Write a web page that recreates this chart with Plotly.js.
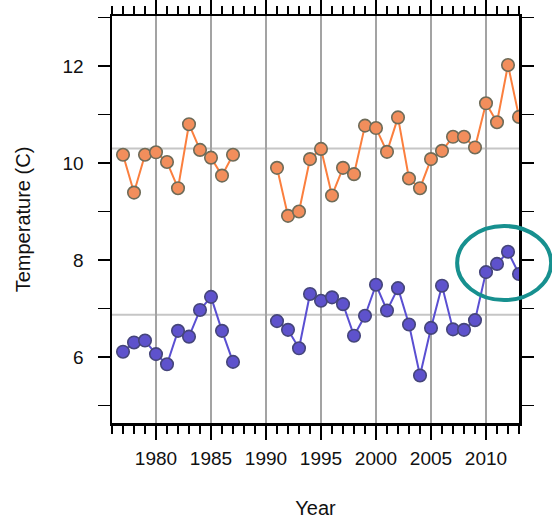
<!DOCTYPE html>
<html>
<head>
<meta charset="utf-8">
<script src="https://cdn.plot.ly/plotly-3.0.1.min.js"></script>
<style>
  html, body { margin: 0; padding: 0; background: #ffffff; }
  #chart { width: 552px; height: 520px; }
</style>
</head>
<body>
<div id="chart"></div>
<script>
// Years (1988-1990 missing)
const years = [1977,1978,1979,1980,1981,1982,1983,1984,1985,1986,1987,1988,1989,1990,
               1991,1992,1993,1994,1995,1996,1997,1998,1999,2000,2001,2002,2003,2004,
               2005,2006,2007,2008,2009,2010,2011,2012,2013];

// Upper (orange) series
const upperTemp = [10.17,9.39,10.17,10.22,10.02,9.48,10.80,10.27,10.11,9.74,10.17,null,null,null,
                   9.90,8.91,9.00,10.08,10.29,9.33,9.90,9.77,10.77,10.72,10.23,10.94,9.68,9.48,
                   10.08,10.25,10.54,10.54,10.32,11.23,10.84,12.02,10.95];

// Lower (purple) series
const lowerTemp = [6.11,6.30,6.34,6.06,5.85,6.54,6.42,6.97,7.24,6.54,5.90,null,null,null,
                   6.74,6.56,6.18,7.30,7.16,7.23,7.09,6.44,6.85,7.49,6.96,7.42,6.67,5.62,
                   6.60,7.47,6.57,6.56,6.76,7.75,7.92,8.17,7.71];

// Reference (mean) lines
const refLines = [10.30, 6.87];

// Axis ticks
const xTickVals = [1980,1985,1990,1995,2000,2005,2010];
const yTickVals = [6,8,10,12];

const FONT = 'Liberation Sans, Arial, Helvetica, sans-serif';

const traces = [
  {
    x: years, y: upperTemp, type: 'scatter', mode: 'lines+markers',
    connectgaps: false,
    line: {color: '#fb7f3e', width: 2},
    marker: {size: 12.5, color: '#f28e5c', line: {color: '#6e6b58', width: 1.6}},
    hoverinfo: 'x+y'
  },
  {
    x: years, y: lowerTemp, type: 'scatter', mode: 'lines+markers',
    connectgaps: false,
    line: {color: '#5a4fd2', width: 2},
    marker: {size: 12.5, color: '#5e52cc', line: {color: '#45457a', width: 1.6}},
    hoverinfo: 'x+y'
  }
];

const shapes = refLines.map(v => ({
  type: 'line', xref: 'paper', yref: 'y', x0: 0, x1: 1, y0: v, y1: v,
  line: {color: '#c6c6c6', width: 2}, layer: 'below'
}));

shapes.push({
  type: 'circle', xref: 'paper', yref: 'paper',
  x0: 0.848, x1: 1.079, y0: 0.302, y1: 0.484,
  line: {color: '#17908f', width: 4}, fillcolor: 'rgba(0,0,0,0)', layer: 'above'
});

const layout = {
  width: 552, height: 520,
  margin: {l: 112, r: 33, t: 16, b: 97},
  paper_bgcolor: '#ffffff', plot_bgcolor: '#ffffff',
  showlegend: false,
  font: {family: FONT, size: 19, color: '#111111'},
  xaxis: {
    range: [1976, 2013],
    tickvals: xTickVals,
    ticktext: xTickVals.map(String),
    ticks: 'outside', ticklen: 14, tickwidth: 1.5, tickcolor: '#000',
    showline: true, linecolor: '#000', linewidth: 2.5, mirror: 'ticks',
    showgrid: true, gridcolor: '#a3a3a3', gridwidth: 1.2,
    zeroline: false,
    minor: {dtick: 1, tick0: 1976, ticks: 'outside', ticklen: 8, tickwidth: 1.5, tickcolor: '#000', showgrid: false},
    tickfont: {family: FONT, size: 19, color: '#111'},
    ticklabelstandoff: 3,
    title: {text: 'Year', font: {family: FONT, size: 20, color: '#111'}, standoff: 33}
  },
  yaxis: {
    range: [4.64, 13.03],
    tickvals: yTickVals,
    ticktext: yTickVals.map(String),
    ticks: 'outside', ticklen: 12, tickwidth: 1.5, tickcolor: '#000',
    showline: true, linecolor: '#000', linewidth: 2.5, mirror: 'ticks',
    showgrid: false, zeroline: false,
    minor: {dtick: 1, tick0: 5, ticks: 'outside', ticklen: 12, tickwidth: 1.5, tickcolor: '#000', showgrid: false},
    tickfont: {family: FONT, size: 19, color: '#111'},
    ticklabelstandoff: 10,
    title: {text: 'Temperature (C)', font: {family: FONT, size: 20, color: '#111'}, standoff: 27}
  },
  shapes: shapes
};

Plotly.newPlot('chart', traces, layout, {displayModeBar: false, staticPlot: true});
</script>
</body>
</html>
